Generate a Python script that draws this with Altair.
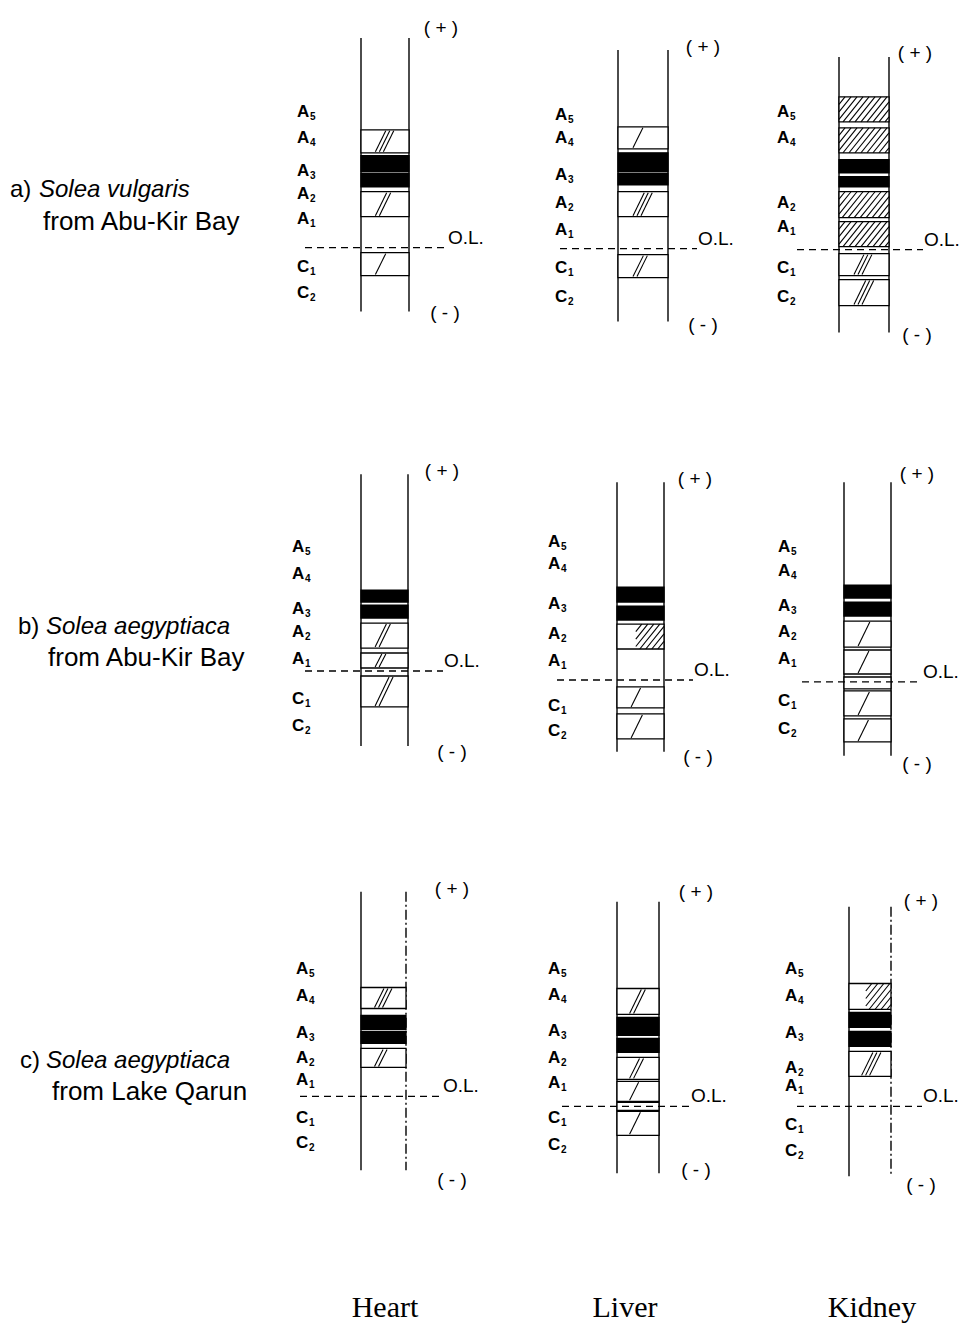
import altair as alt
import pandas as pd

# ---------------- data ----------------
SAMPLES = ["a", "b", "c"]
TISSUES = ["Heart", "Liver", "Kidney"]
SPECIES = ["Solea vulgaris", "Solea aegyptiaca", "Solea aegyptiaca"]
LOCALITIES = ["from Abu-Kir Bay", "from Abu-Kir Bay", "from Lake Qarun"]
ISOZYMES = ["A5", "A4", "A3", "A2", "A1", "C1", "C2"]

# isozyme label mobility (distance above the origin line), per tissue
label_mob_a = [[136, 110, 77, 54, 29, -19, -45],
               [134, 111, 74, 46, 19, -19, -48],
               [138, 112, None, 47, 23, -18, -47]]
label_mob_b = [[124, 97, 62, 39, 12, -28, -55],
               [138, 116, 76, 46, 19, -26, -51],
               [135, 111, 76, 50, 23, -19, -47]]
label_mob_c = [[128, 100, 63, 38, 16, -22, -47],
               [138, 111, 75, 48, 23, -12, -39],
               [138, 110, 73, 38, 20, -19, -45]]

# bands: mobility of front and rear edge (above origin line), kind, number of strokes
band_sample = (["a"] * 5 + ["a"] * 5 + ["a"] * 8 +
               ["b"] * 5 + ["b"] * 5 + ["b"] * 7 +
               ["c"] * 4 + ["c"] * 7 + ["c"] * 4)
band_tissue = (["Heart"] * 5 + ["Liver"] * 5 + ["Kidney"] * 8 +
               ["Heart"] * 5 + ["Liver"] * 5 + ["Kidney"] * 7 +
               ["Heart"] * 4 + ["Liver"] * 7 + ["Kidney"] * 4)
band_top = [118, 92, 74, 56, -5,
            122, 96, 75, 57, -6,
            153, 122, 90, 73, 58, 28, -4, -30,
            81, 66, 48, 18, -5,
            93, 74, 56, -7, -34,
            97, 80, 61, 32, 5, -9, -37,
            109, 81, 65, 48,
            118, 89, 68, 49, 25, 4, -5,
            123, 94, 75, 55]
band_bottom = [95, 76, 61, 31, -28,
               100, 77, 64, 32, -29,
               128, 97, 77, 63, 32, 3, -26, -56,
               69, 53, 23, 3, -36,
               78, 60, 31, -28, -59,
               84, 66, 35, 8, -7, -34, -60,
               88, 67, 53, 29,
               92, 71, 54, 27, 5, -4, -29,
               97, 79, 60, 30]
band_kind = ["light", "dark", "dark", "light", "light",
             "light", "dark", "dark", "light", "light",
             "hatch", "hatch", "dark", "dark", "hatch", "hatch", "light", "light",
             "dark", "dark", "light", "light", "light",
             "dark", "dark", "halfhatch", "light", "light",
             "dark", "dark", "light", "light", "light", "light", "light",
             "light", "dark", "dark", "light",
             "light", "dark", "dark", "light", "light", "light", "light",
             "halfhatch", "dark", "dark", "light"]
band_strokes = [3, 0, 0, 2, 1,
                1, 0, 0, 3, 2,
                0, 0, 0, 0, 0, 0, 3, 3,
                0, 0, 2, 2, 2,
                0, 0, 0, 1, 1,
                0, 0, 1, 1, 0, 1, 1,
                3, 0, 0, 2,
                2, 0, 0, 2, 1, 0, 1,
                0, 0, 0, 3]

# ---------------- layout (page pixel positions) ----------------
LAYOUT = {
    ("a", "Heart"):  dict(left=361, right=409, top=38, bottom=312, ol=248, dl=305, dr=447, px=441, py=28, mx=445, my=313, lo=64),
    ("a", "Liver"):  dict(left=618, right=668, top=50, bottom=322, ol=249, dl=560, dr=697, px=703, py=47, mx=703, my=325, lo=63),
    ("a", "Kidney"): dict(left=839, right=889, top=57, bottom=333, ol=250, dl=797, dr=923, px=915, py=53, mx=917, my=335, lo=62),
    ("b", "Heart"):  dict(left=361, right=408, top=475, bottom=747, ol=672, dl=305, dr=443, px=442, py=472, mx=452, my=753, lo=69),
    ("b", "Liver"):  dict(left=617, right=664, top=483, bottom=753, ol=681, dl=557, dr=693, px=695, py=480, mx=698, my=758, lo=69),
    ("b", "Kidney"): dict(left=844, right=891, top=483, bottom=757, ol=683, dl=802, dr=922, px=917, py=475, mx=917, my=765, lo=66),
    ("c", "Heart"):  dict(left=361, right=406, top=893, bottom=1172, ol=1098, dl=300, dr=442, px=452, py=890, mx=452, my=1182, lo=65),
    ("c", "Liver"):  dict(left=617, right=659, top=903, bottom=1175, ol=1108, dl=562, dr=690, px=696, py=893, mx=696, my=1172, lo=69),
    ("c", "Kidney"): dict(left=849, right=891, top=908, bottom=1178, ol=1108, dl=797, dr=922, px=921, py=902, mx=921, my=1187, lo=64),
}
DASHED_RIGHT = [("c", "Heart"), ("c", "Kidney")]
ROW_Y = {"a": (190, 222), "b": (628, 659), "c": (1063, 1094)}
ROW_X = {"a": (10, 39, 43), "b": (18, 46, 48), "c": (20, 46, 52)}
COL_X = {"Heart": 385, "Liver": 625, "Kidney": 872}
COL_Y = 1310

label_mob = {"a": label_mob_a, "b": label_mob_b, "c": label_mob_c}

# ---------------- build mark tables ----------------
lanes, lanes_dashed, ol_rules, rects, strokes = [], [], [], [], []
letters, subs, oltext, signs = [], [], [], []

for s in SAMPLES:
    for ti, t in enumerate(TISSUES):
        lay = LAYOUT[(s, t)]
        lanes.append(dict(x=lay["left"], x2=lay["left"], y=lay["top"], y2=lay["bottom"]))
        right = dict(x=lay["right"], x2=lay["right"], y=lay["top"], y2=lay["bottom"])
        (lanes_dashed if (s, t) in DASHED_RIGHT else lanes).append(right)
        ol_rules.append(dict(x=lay["dl"], x2=lay["dr"], y=lay["ol"], y2=lay["ol"]))
        oltext.append(dict(x=lay["dr"] + 1, y=lay["ol"] - 10, text="O.L."))
        signs.append(dict(x=lay["px"], y=lay["py"], text="( + )"))
        signs.append(dict(x=lay["mx"], y=lay["my"], text="( - )"))
        for iso, mob in zip(ISOZYMES, label_mob[s][ti]):
            if mob is None:
                continue
            lx = lay["left"] - lay["lo"]
            ly = lay["ol"] - mob
            letters.append(dict(x=lx, y=ly, text=iso[0]))
            subs.append(dict(x=lx + 13, y=ly + 5, text=iso[1]))

for s, t, top, bot, kind, n in zip(band_sample, band_tissue, band_top, band_bottom,
                                   band_kind, band_strokes):
    lay = LAYOUT[(s, t)]
    L, R, ol = lay["left"], lay["right"], lay["ol"]
    yt, yb = ol - top, ol - bot
    h, W = yb - yt, R - L
    rects.append(dict(x=L, x2=R, y=yt, y2=yb, fill="black" if kind == "dark" else "white"))
    if kind in ("hatch", "halfhatch"):
        xs = L if kind == "hatch" else L + 0.4 * W
        dx = 0.8 * h
        sp = 6.0
        x0 = xs - dx
        while x0 < R:
            tmin = max(0.0, (xs - x0) / dx)
            tmax = min(1.0, (R - x0) / dx)
            if tmax > tmin:
                strokes.append(dict(x=x0 + dx * tmin, y=yb - h * tmin,
                                    x2=x0 + dx * tmax, y2=yb - h * tmax))
            x0 += sp
    elif kind == "light" and n > 0:
        dx = 0.45 * h
        base = L + 0.3 * W
        for k in range(n):
            strokes.append(dict(x=base + 4 * k, y=yb - 1, x2=base + 4 * k + dx, y2=yt + 1))

row_prefix, row_species, row_local = [], [], []
for s, sp_name, loc in zip(SAMPLES, SPECIES, LOCALITIES):
    y1, y2 = ROW_Y[s]
    xp, xs_, xl = ROW_X[s]
    row_prefix.append(dict(x=xp, y=y1, text=s + ")"))
    row_species.append(dict(x=xs_, y=y1, text=sp_name))
    row_local.append(dict(x=xl, y=y2, text=loc))

col_labels = [dict(x=COL_X[t], y=COL_Y, text=t) for t in TISSUES]

# ---------------- chart ----------------
XS = alt.Scale(domain=[8, 962], nice=False, zero=False)
YS = alt.Scale(domain=[8, 1323], nice=False, zero=False, reverse=True)


def xy(df_rows, two=False):
    enc = dict(x=alt.X("x:Q", scale=XS, axis=None), y=alt.Y("y:Q", scale=YS, axis=None))
    if two:
        enc["x2"] = alt.X2("x2:Q")
        enc["y2"] = alt.Y2("y2:Q")
    return enc


def rule_layer(rows, **kw):
    return alt.Chart(pd.DataFrame(rows)).mark_rule(color="black", **kw).encode(**xy(rows, True))


def text_layer(rows, **kw):
    return alt.Chart(pd.DataFrame(rows)).mark_text(color="black", baseline="middle", **kw).encode(
        text="text:N", **xy(rows))


band_layer = alt.Chart(pd.DataFrame(rects)).mark_rect(stroke="black", strokeWidth=1.3).encode(
    fill=alt.Fill("fill:N", scale=None), **xy(rects, True))

layers = [
    rule_layer(lanes, strokeWidth=1.4),
    rule_layer(lanes_dashed, strokeWidth=1.4, strokeDash=[10, 3, 2, 3]),
    band_layer,
    rule_layer(strokes, strokeWidth=1.1),
    rule_layer(ol_rules, strokeWidth=1.3, strokeDash=[7, 5]),
    text_layer(letters, align="left", font="Liberation Sans", fontSize=17, fontWeight="bold"),
    text_layer(subs, align="left", font="Liberation Sans", fontSize=10, fontWeight="bold"),
    text_layer(oltext, align="left", font="Liberation Sans", fontSize=19),
    text_layer(signs, align="center", font="Liberation Sans", fontSize=19),
    text_layer(row_prefix, align="left", font="Liberation Sans", fontSize=24),
    text_layer(row_species, align="left", font="Liberation Sans", fontSize=24, fontStyle="italic"),
    text_layer(row_local, align="left", font="Liberation Sans", fontSize=26),
    text_layer(col_labels, align="center", font="Liberation Serif", fontSize=30),
]

chart = alt.layer(*layers).properties(
    width=954, height=1315, padding=0,
    autosize=alt.AutoSizeParams(type="fit", contains="padding"),
).configure_view(stroke=None)

chart.save("out.html", embed_options={"renderer": "svg", "actions": False})
